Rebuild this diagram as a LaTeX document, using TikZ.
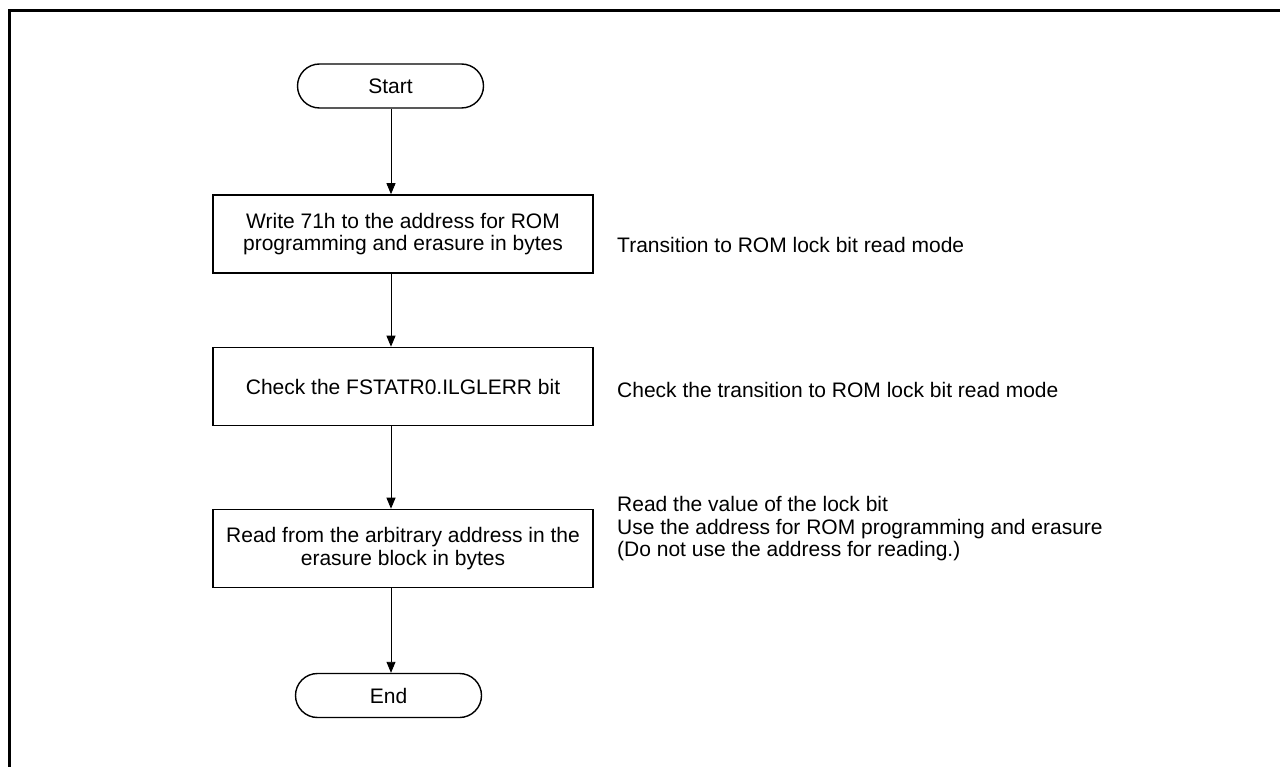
\documentclass[tikz,border=0pt]{standalone}
\usepackage{fontspec}
\setmainfont{Liberation Sans}
\usetikzlibrary{arrows.meta}
\begin{document}
\begin{tikzpicture}[x=1pt,y=-1pt,
  every node/.style={font=\fontsize{21}{22.5}\selectfont, inner sep=0pt},
  terminal/.style={draw, line width=1.4pt, rounded corners=22pt, minimum width=186pt, minimum height=44pt},
  procbox/.style={draw, line width=1.6pt, minimum width=380pt, minimum height=78pt, align=center},
  note/.style={anchor=west, align=left},
  flow/.style={line width=0.9pt, -{Triangle[width=9pt,length=11pt]}}]
\useasboundingbox (0,0) rectangle (1280,767);
\fill[white] (0,0) rectangle (1280,767);
\draw[line width=3pt] (9.5,767) -- (9.5,10.5) -- (1280,10.5);
\coordinate (col) at (391,0);
\node[terminal] (start) at (390.5,86) {Start};
\node[procbox] (b1) at (403,234) {Write 71h to the address for ROM\\programming and erasure in bytes};
\node[procbox] (b2) at (403,386.5) {Check the FSTATR0.ILGLERR bit};
\node[procbox] (b3) at (403,548.5) {Read from the arbitrary address in the\\erasure block in bytes};
\node[terminal] (end) at (388.5,695.5) {End};
\node[note] (n1) at (617,245) {Transition to ROM lock bit read mode};
\node[note] (n2) at (617,390) {Check the transition to ROM lock bit read mode};
\node[note] (n3) at (617,529) {Read the value of the lock bit\\Use the address for ROM programming and erasure\\(Do not use the address for reading.)};
\draw[flow] (start.south -| col) -- (b1.north -| col);
\draw[flow] (b1.south -| col) -- (b2.north -| col);
\draw[flow] (b2.south -| col) -- (b3.north -| col);
\draw[flow] (b3.south -| col) -- (end.north -| col);
\end{tikzpicture}
\end{document}
